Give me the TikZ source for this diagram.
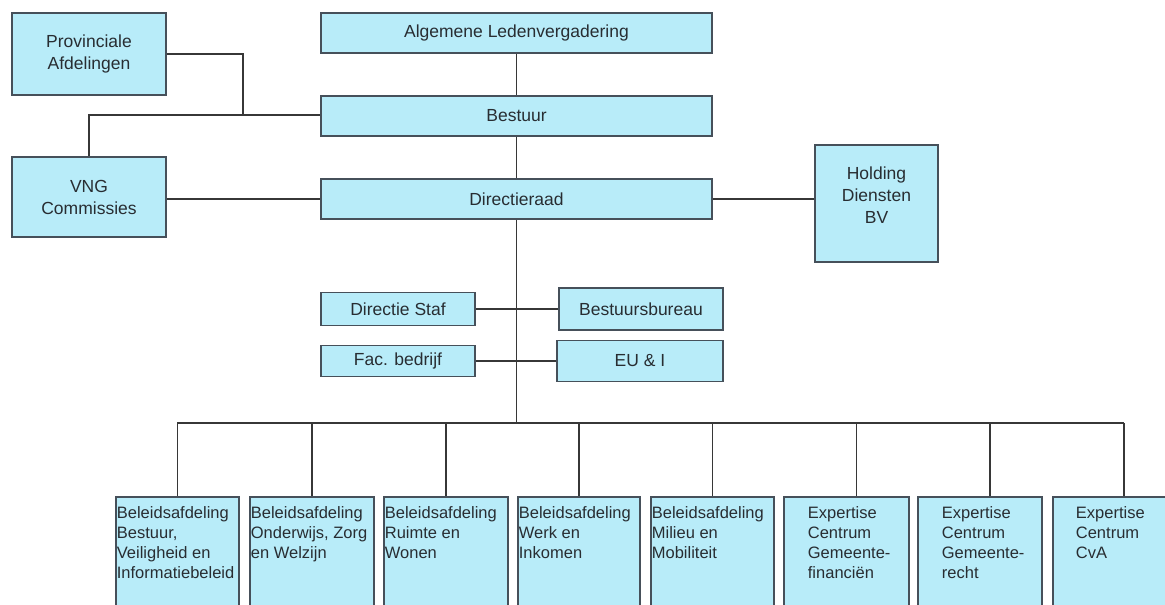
\documentclass[tikz,border=0pt]{standalone}
\usepackage{fontspec}
\setmainfont{Liberation Sans}
\usetikzlibrary{calc}
\definecolor{boxfill}{RGB}{184,236,249}
\definecolor{boxline}{RGB}{70,80,90}
\definecolor{linecol}{RGB}{55,55,55}
\definecolor{txt}{RGB}{40,45,50}
\begin{document}
\begin{tikzpicture}[x=1pt,y=-1pt,
  box/.style={draw=boxline, line width=1.8pt, fill=boxfill, text=txt, align=center, inner sep=0pt, font=\fontsize{17.5}{22}\selectfont},
  low/.style={box, anchor=north west, align=left, font=\fontsize{16.5}{20}\selectfont},
  conn/.style={draw=linecol, line width=1.6pt}]
\useasboundingbox (0,0) rectangle (1165,605);
\clip (0,0) rectangle (1165,605);
\fill[white] (0,0) rectangle (1165,605);
% top part
\node[box, minimum width=154pt, minimum height=82pt] (prov) at (89,54) {Provinciale\\Afdelingen};
\node[box, minimum width=154pt, minimum height=80pt] (vng) at (89,197) {VNG\\Commissies};
\node[box, minimum width=391pt, minimum height=40pt] (alv) at (516.5,33) {Algemene Ledenvergadering};
\node[box, minimum width=391pt, minimum height=40pt] (best) at (516.5,116) {Bestuur};
\node[box, minimum width=391pt, minimum height=40pt] (dir) at (516.5,199) {Directieraad};
\node[box, minimum width=123pt, minimum height=117pt] (hold) at (876.5,203.5) {Holding\\Diensten\\BV\\[-6pt]\mbox{}};
\node[box, minimum width=154pt, minimum height=33pt] (ds) at (398,309) {Directie Staf};
\node[box, minimum width=164pt, minimum height=42pt] (bb) at (641,309) {Bestuursbureau};
\node[box, minimum width=154pt, minimum height=31pt] (fac) at (398,361) {Fac. bedrijf};
\node[box, minimum width=166pt, minimum height=41pt] (eu) at (640,361) {EU \& I};
% bottom boxes
\node[low] (b1) at (115,496) {\parbox[t][140pt][t]{123pt}{\raggedright\leftskip=1pt\relax\rule{0pt}{22pt}Beleidsafdeling\\Bestuur,\\Veiligheid en\\Informatiebeleid}};
\node[low] (b2) at (249,496) {\parbox[t][140pt][t]{124pt}{\raggedright\leftskip=1pt\relax\rule{0pt}{22pt}Beleidsafdeling\\Onderwijs, Zorg\\en Welzijn}};
\node[low] (b3) at (383,496) {\parbox[t][140pt][t]{124pt}{\raggedright\leftskip=1pt\relax\rule{0pt}{22pt}Beleidsafdeling\\Ruimte en\\Wonen}};
\node[low] (b4) at (517,496) {\parbox[t][140pt][t]{122pt}{\raggedright\leftskip=1pt\relax\rule{0pt}{22pt}Beleidsafdeling\\Werk en\\Inkomen}};
\node[low] (b5) at (650,496) {\parbox[t][140pt][t]{123pt}{\raggedright\leftskip=1pt\relax\rule{0pt}{22pt}Beleidsafdeling\\Milieu en\\Mobiliteit}};
\node[low] (e1) at (783,496) {\parbox[t][140pt][t]{125pt}{\raggedright\leftskip=24pt\relax\rule{0pt}{22pt}Expertise\\Centrum\\Gemeente-\\financiën}};
\node[low] (e2) at (917,496) {\parbox[t][140pt][t]{124pt}{\raggedright\leftskip=24pt\relax\rule{0pt}{22pt}Expertise\\Centrum\\Gemeente-\\recht}};
\node[low] (e3) at (1052,496) {\parbox[t][140pt][t]{124pt}{\raggedright\leftskip=23pt\relax\rule{0pt}{22pt}Expertise\\Centrum\\CvA}};
% connectors
\coordinate (pj) at (243,115);
\draw[conn] (alv) -- (best);
\draw[conn] (best) -- (dir);
\draw[conn] (prov.east) -| (pj);
\draw[conn] (vng.north) |- (pj) -- (pj -| best.west);
\draw[conn] (vng.east |- dir.west) -- (dir.west);
\draw[conn] (dir.east) -- (dir.east -| hold.west);
\draw[conn] (ds.east) -- (bb.west);
\draw[conn] (fac.east) -- (eu.west);
\coordinate (bus) at (516.5,423);
\draw[conn] (dir.south) -- (bus);
\coordinate (d6) at ($(e1.north)+(10,0)$);
\coordinate (d7) at ($(e2.north)+(10,0)$);
\coordinate (d8) at ($(e3.north)+(9,0)$);
\draw[conn] (b1.north |- bus) -- (d8 |- bus);
\foreach \n in {b1,b2,b3,b4,b5} \draw[conn] (\n.north |- bus) -- (\n.north);
\foreach \n in {d6,d7,d8} \draw[conn] (\n |- bus) -- (\n);
\end{tikzpicture}
\end{document}
